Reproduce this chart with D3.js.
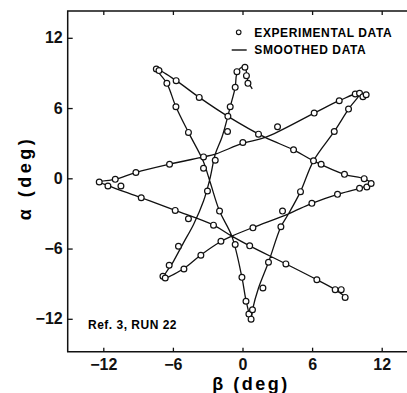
<!DOCTYPE html>
<html>
<head>
<meta charset="utf-8">
<script src="https://cdn.jsdelivr.net/npm/d3@7"></script>
<style>
  body { margin: 0; background: #fff; }
  svg { display: block; font-family: 'Liberation Sans', Arial, sans-serif; }
  .tick text { font-size: 16px; font-weight: bold; fill: #111; }
  .tick line { stroke: #111; stroke-width: 1.3; }
</style>
</head>
<body>
<svg id="chart" width="407" height="393"></svg>
<script>
// tick values
const xTicks = [-12, -6, 0, 6, 12]
const yTicks = [-12, -6, 0, 6, 12]

// legend + labels
const legendLabels = ['EXPERIMENTAL DATA', 'SMOOTHED DATA']
const runNote = 'Ref. 3, RUN 22'

const expPoints = [
  [0.47, 8.11], [0.34, 8.77], [0.21, 9.49], [-0.48, 9.11],
  [-0.63, 7.77], [-1.06, 6.11], [-1.29, 4.0], [-2.35, 1.54], [-3.02, -1.09],
  [-4.66, -3.46], [-5.52, -5.8], [-6.32, -7.43], [-6.86, -8.37],
  [-6.66, -8.51], [-5.05, -7.74], [-3.59, -6.57], [-1.86, -5.37], [0.9, -4.23],
  [3.45, -2.8], [5.98, -2.14], [8.19, -1.37], [10.09, -0.86], [10.72, -0.74], [11.09, -0.45],
  [10.49, -0.03], [8.79, 0.34], [6.78, 1.2], [4.4, 2.43], [1.38, 3.77], [-1.26, 5.29],
  [-3.73, 6.91], [-5.72, 8.34], [-7.43, 9.34],
  [-7.2, 9.2], [-6.52, 8.11], [-5.74, 6.11], [-4.66, 3.92], [-3.36, 1.83], [-3.36, 0.86],
  [-1.98, -2.8], [-0.63, -5.66], [-0.05, -8.46], [0.3, -10.5], [0.55, -11.6], [0.74, -12.03],
  [0.86, -11.23], [1.76, -9.37], [2.24, -7.17], [3.31, -4.14], [5.0, -1.14], [6.12, 1.49],
  [7.91, 4.0], [9.14, 5.91], [9.72, 7.2], [10.09, 7.26], [10.38, 6.97], [10.66, 7.14],
  [8.34, 6.63], [6.18, 5.57], [3.02, 4.4], [0.03, 3.06], [-6.29, 1.2], [-9.19, 0.49],
  [-10.97, -0.09], [-12.35, -0.31],
  [-11.6, -0.66], [-10.48, -0.66], [-8.73, -1.66], [-5.8, -2.74], [-2.5, -4.0],
  [0.62, -5.77], [3.74, -7.31], [6.41, -8.66], [7.99, -9.51], [8.51, -9.51], [8.85, -10.17]
]

// smoothed curve knots [beta, alpha], in order along the run
const smoothPoints = [
  [0.84, 7.63], [0.47, 8.3], [0.2, 9.5], [-0.2, 9.4], [-0.5, 8.9],
  [-0.63, 7.77], [-1.06, 6.11], [-1.29, 5.2], [-1.78, 3.49], [-2.35, 2.06], [-2.8, 0.0],
  [-3.36, -1.94], [-4.22, -3.94], [-5.09, -5.51], [-5.95, -7.09], [-6.81, -8.51],
  [-5.05, -7.7], [-3.59, -6.55], [-1.86, -5.4], [-0.92, -4.94], [0.9, -4.2], [3.97, -3.03],
  [5.98, -2.14], [8.19, -1.37], [10.09, -0.86], [11.09, -0.45],
  [10.5, -0.05], [8.79, 0.34], [6.12, 1.49], [4.4, 2.43], [1.96, 3.49], [-1.26, 5.29],
  [-3.73, 6.91], [-5.72, 8.34], [-7.43, 9.34],
  [-6.52, 8.11], [-5.74, 6.11], [-4.66, 3.92], [-3.4, 1.5], [-2.8, -0.3], [-1.98, -2.8],
  [-0.92, -4.94], [-0.05, -8.46], [0.32, -10.51], [0.74, -12.0],
  [0.86, -11.23], [1.38, -9.37], [2.24, -7.17], [3.31, -4.14], [3.97, -3.03], [5.0, -1.14],
  [6.12, 1.49], [7.91, 4.0], [9.14, 5.91], [10.15, 7.3],
  [8.34, 6.63], [6.18, 5.57], [1.96, 3.49], [0.03, 3.0], [-2.35, 2.06], [-3.36, 1.83],
  [-6.29, 1.2], [-9.19, 0.49], [-10.97, -0.09], [-12.35, -0.31],
  [-11.6, -0.62], [-8.73, -1.66], [-5.8, -2.74], [-2.5, -4.0], [-0.92, -4.94],
  [0.62, -5.77], [3.74, -7.31], [6.41, -8.66], [7.99, -9.51], [8.85, -10.1]
]

const svg = d3.select('#chart')

const plotLeft = 67.7, plotTop = 11, plotBottom = 351.7
const x = d3.scaleLinear().domain([-15, 15]).range([68.5, 416.5])
const y = d3.scaleLinear().domain([-14.81, 14.29]).range([plotBottom, plotTop])

const fmt = d => d < 0 ? '\u2212' + Math.abs(d) : String(d)

// frame (right side runs off the picture)
svg.append('path')
  .attr('d', `M430,${plotTop}H${plotLeft}V${plotBottom}H430`)
  .attr('fill', 'none')
  .attr('stroke', '#111')
  .attr('stroke-width', 1.5)

// axes, ticks pointing inward
svg.append('g')
  .attr('transform', `translate(${plotLeft},0)`)
  .call(d3.axisLeft(y).tickValues(yTicks).tickFormat(fmt).tickSizeInner(-5).tickSizeOuter(0).tickPadding(5))
  .call(g => g.select('.domain').remove())

svg.append('g')
  .attr('transform', `translate(0,${plotBottom})`)
  .call(d3.axisBottom(x).tickValues(xTicks).tickFormat(fmt).tickSizeInner(-4).tickSizeOuter(0).tickPadding(7))
  .call(g => g.select('.domain').remove())

svg.append('g')
  .attr('transform', `translate(0,${plotTop})`)
  .call(d3.axisTop(x).tickValues(xTicks).tickFormat('').tickSizeInner(-4).tickSizeOuter(0))
  .call(g => g.select('.domain').remove())

// axis titles
svg.append('text')
  .attr('x', 251).attr('y', 390)
  .attr('text-anchor', 'middle')
  .style('font-size', '18px').style('font-weight', 'bold').style('letter-spacing', '2.5px')
  .text('\u03b2 (deg)')

svg.append('text')
  .attr('transform', 'translate(31,178) rotate(-90)')
  .attr('text-anchor', 'middle')
  .style('font-size', '18px').style('font-weight', 'bold').style('letter-spacing', '3.5px')
  .text('\u03b1 (deg)')

// smoothed line
const line = d3.line()
  .x(d => x(d[0]))
  .y(d => y(d[1]))
  .curve(d3.curveCatmullRom.alpha(0.5))

svg.append('path')
  .datum(smoothPoints)
  .attr('d', line)
  .attr('fill', 'none')
  .attr('stroke', '#111')
  .attr('stroke-width', 1.3)

// experimental points
svg.append('g')
  .selectAll('circle')
  .data(expPoints)
  .enter()
  .append('circle')
  .attr('cx', d => x(d[0]))
  .attr('cy', d => y(d[1]))
  .attr('r', 2.9)
  .attr('fill', '#fff')
  .attr('stroke', '#111')
  .attr('stroke-width', 1.2)

// legend
const legend = svg.append('g')
legend.append('circle')
  .attr('cx', 238.7).attr('cy', 32.3).attr('r', 2.3)
  .attr('fill', '#fff').attr('stroke', '#111').attr('stroke-width', 1.1)
legend.append('line')
  .attr('x1', 231.7).attr('x2', 246.7).attr('y1', 50).attr('y2', 50)
  .attr('stroke', '#111').attr('stroke-width', 1.4)
legend.selectAll('text')
  .data(legendLabels)
  .enter()
  .append('text')
  .attr('x', 254.3)
  .attr('y', (d, i) => 36.7 + i * 17.6)
  .style('font-size', '12px').style('font-weight', 'bold').style('letter-spacing', '0.6px')
  .text(d => d)

svg.append('text')
  .attr('x', 88).attr('y', 329)
  .style('font-size', '12px').style('font-weight', 'bold').style('letter-spacing', '0.5px')
  .text(runNote)
</script>
</body>
</html>
